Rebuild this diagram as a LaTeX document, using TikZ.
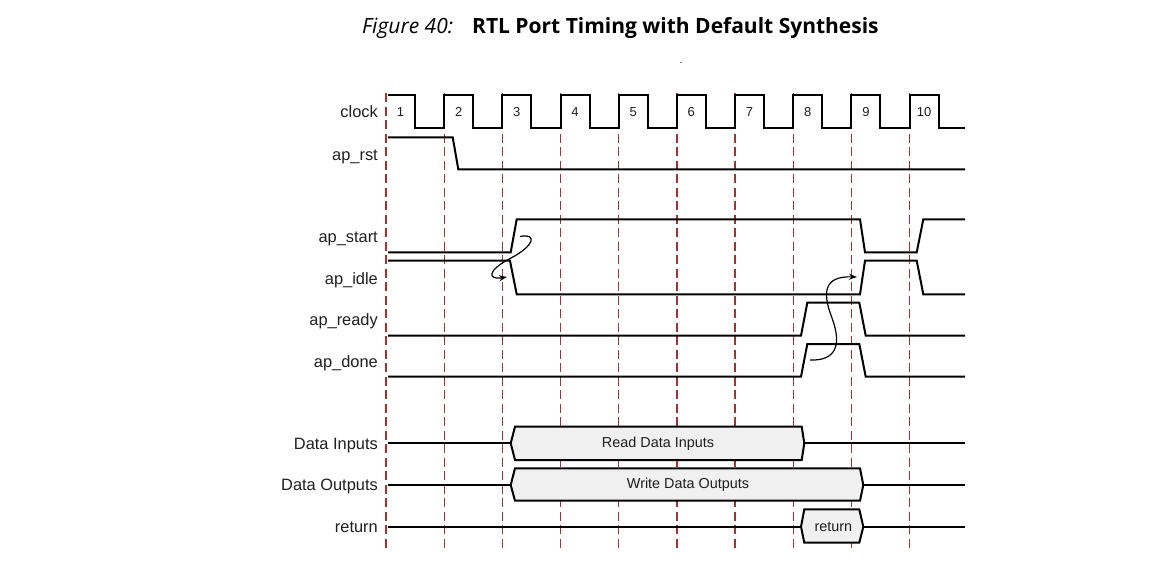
\documentclass[tikz,border=0pt]{standalone}
\usepackage{fontspec}
\setmainfont{Liberation Sans}
\newfontfamily\titlefont{Open Sans}
\usetikzlibrary{arrows.meta}
\definecolor{gridred}{RGB}{160,52,52}
\definecolor{busfill}{RGB}{240,240,240}
\definecolor{txt}{RGB}{30,30,30}
\tikzset{
  grid/.style={draw=gridred, line width=1.3pt, dash pattern=on 9pt off 4.5pt},
  sig/.style={draw=black, line width=2pt, line join=miter},
  bus/.style={draw=black, line width=2pt, fill=busfill, line join=miter},
  lbl/.style={anchor=base east, inner sep=0pt, text=txt, font=\fontsize{16.4}{19}\selectfont},
  num/.style={inner sep=0pt, text=txt, font=\fontsize{13}{15}\selectfont},
  bustxt/.style={inner sep=0pt, text=txt, font=\fontsize{14.4}{17}\selectfont},
  causal/.style={draw=black, line width=1.2pt, -{Stealth[length=8pt,width=6pt]}}
}
\begin{document}
\begin{tikzpicture}[x=1pt,y=-1pt]
\useasboundingbox (0,0) rectangle (1173,568);
% title
\node[anchor=base west, inner sep=0pt, font=\titlefont\fontsize{21}{25}\selectfont] (title) at (362,33.5)
  {{\itshape Figure 40:}\hspace{19pt}\textbf{RTL Port Timing with Default Synthesis}};
\draw[gray, line width=1pt] (679.5,62) -- (682,62);
% grid
\foreach \k in {0,...,9} {
  \draw[grid] ({386+58.17*\k},93) -- ({386+58.17*\k},548);
}
% clock
\draw[sig] (388,95) -- (415.1,95) -- (415.1,128.3)
  foreach \k in {1,...,9} { -- ({386+58.17*\k},128.3) -- ({386+58.17*\k},95) -- ({415.1+58.17*\k},95) -- ({415.1+58.17*\k},128.3) }
  -- (965,128.3);
\foreach \k [evaluate=\k as \n using int(\k+1)] in {0,...,9} {
  \node[num] (n\n) at ({400.5+58.17*\k},112) {\n};
}
% labels
\node[lbl] (lclock) at (378,117.7) {clock};
\node[lbl] (lrst) at (378,160.7) {ap\_rst};
\node[lbl] (lstart) at (378,242.4) {ap\_start};
\node[lbl] (lidle) at (378,284) {ap\_idle};
\node[lbl] (lready) at (378,325.7) {ap\_ready};
\node[lbl] (ldone) at (378,367.4) {ap\_done};
\node[lbl] (ldin) at (378,449) {Data Inputs};
\node[lbl] (ldout) at (378,490.7) {Data Outputs};
\node[lbl] (lret) at (378,532.4) {return};
% ap_rst
\draw[sig] (388,137.3) -- (452.7,137.3) -- (458.3,169.3) -- (965,169.3);
% ap_start
\draw[sig] (388,252.3) -- (510.7,252.3) -- (516.7,219.3) -- (860,219.3) -- (865,252.3) -- (916.7,252.3) -- (923.3,219.3) -- (965,219.3);
% ap_idle
\draw[sig] (388,260.7) -- (510,260.7) -- (516.7,294.3) -- (860,294.3) -- (865,260.7) -- (916.7,260.7) -- (923.3,294.3) -- (965,294.3);
% ap_ready
\draw[sig] (388,335.7) -- (801,335.7) -- (807.3,302.7) -- (859.3,302.7) -- (865.7,335.7) -- (965,335.7);
% ap_done
\draw[sig] (388,376.7) -- (801,376.7) -- (807.3,344) -- (859.3,344) -- (865.7,376.7) -- (965,376.7);
% causal arrows
\draw[causal] (520,236.5) .. controls (538,233) and (534,246) .. (511,258) .. controls (486,271) and (488,280) .. (507,277);
\draw[causal] (810,360) .. controls (836,361) and (842,345) .. (832,318) .. controls (822,292) and (824,276) .. (857,277);
% Data Inputs
\draw[sig] (388,443.3) -- (510.7,443.3);
\draw[bus] (510.7,443.3) -- (515,426.7) -- (801.7,426.7) -- (804.3,443.3) -- (801.7,460) -- (515,460) -- cycle;
\draw[sig] (804.3,443.3) -- (965,443.3);
\node[bustxt] (tdin) at (658,443.3) {Read Data Inputs};
% Data Outputs
\draw[sig] (388,485) -- (510.7,485);
\draw[bus] (510.7,485) -- (515,468.3) -- (860,468.3) -- (863.3,485) -- (860,500.7) -- (515,500.7) -- cycle;
\draw[sig] (863.3,485) -- (965,485);
\node[bustxt] (tdout) at (688,485) {Write Data Outputs};
% return
\draw[sig] (388,526.7) -- (801,526.7);
\draw[bus] (801,526.7) -- (804.3,509.3) -- (859.3,509.3) -- (863.3,526.7) -- (859.3,542.7) -- (804.3,542.7) -- cycle;
\draw[sig] (863.3,526.7) -- (965,526.7);
\node[bustxt] (tret) at (833.3,526.7) {return};
\end{tikzpicture}
\end{document}
